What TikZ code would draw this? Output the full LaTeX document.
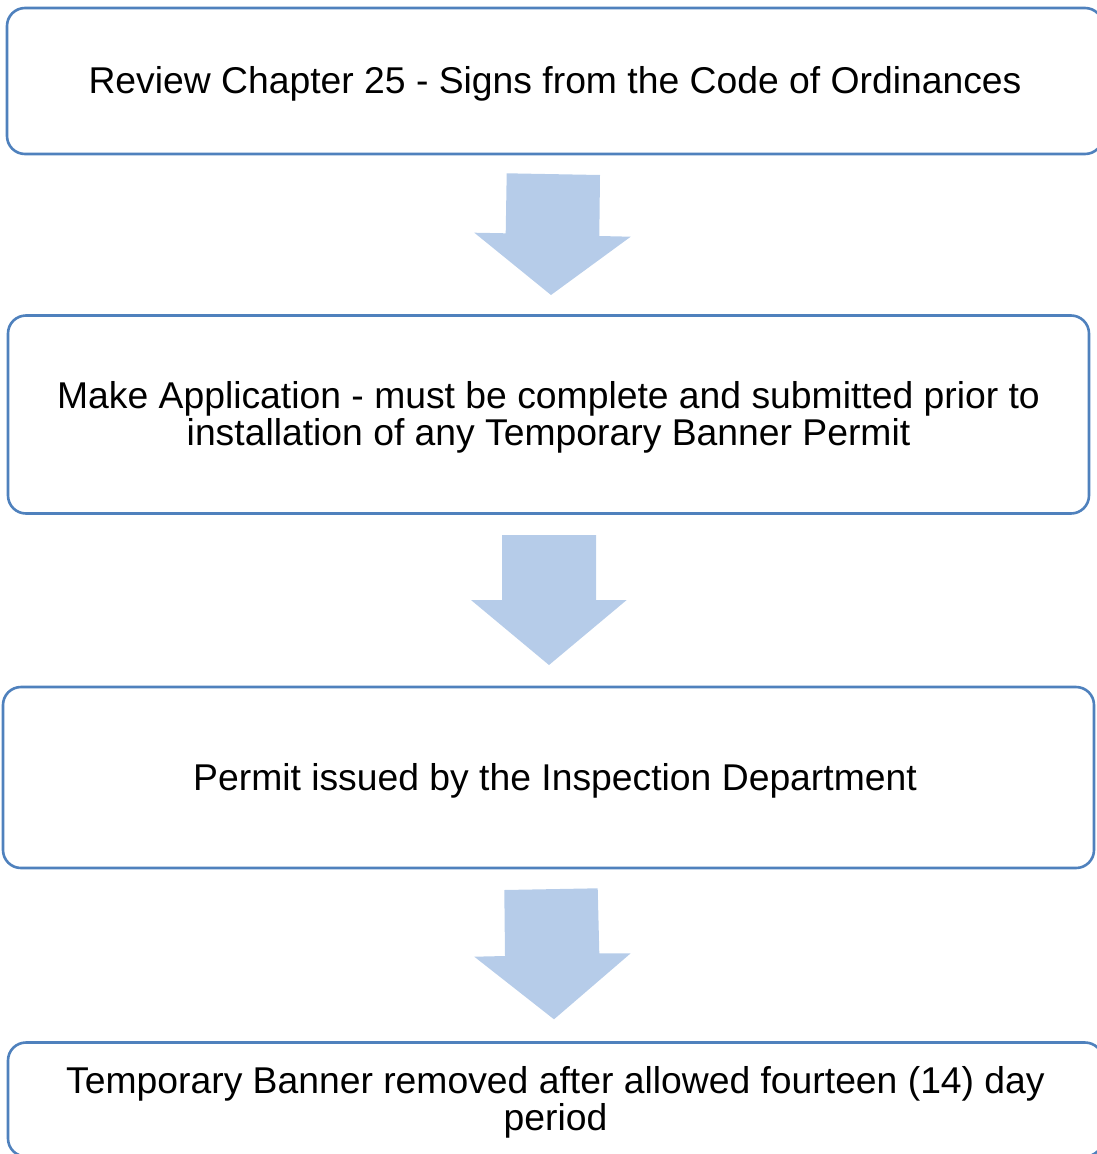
\documentclass[tikz,border=0pt]{standalone}
\usepackage{fontspec}
\setmainfont{Liberation Sans}
\definecolor{boxline}{RGB}{79,129,189}
\definecolor{arrowfill}{RGB}{182,204,233}
\tikzset{
  stepbox/.style={draw=boxline, line width=2.6pt, rounded corners=18pt, fill=white, inner sep=0pt},
  steptext/.style={align=center, inner sep=0pt, font=\fontsize{37.3}{37.5}\selectfont, text=black},
  blockarrow/.style={fill=arrowfill, draw=none}
}
\begin{document}
\begin{tikzpicture}[x=1pt,y=-1pt]
\useasboundingbox (0,0) rectangle (1097,1154);
\clip (0,0) rectangle (1097,1154);
\node[stepbox, minimum width=1096pt, minimum height=146pt] (b1) at (555,81) {};
\node[steptext] (t1) at ([yshift=-2.5pt]b1.center)
  {Review Chapter 25 - Signs from the Code of Ordinances};
\node[stepbox, minimum width=1081pt, minimum height=198pt] (b2) at (548.5,414.5) {};
\node[steptext] (t2) at ([yshift=-3pt]b2.center)
  {Make Application - must be complete and submitted prior to\\installation of any Temporary Banner Permit};
\node[stepbox, minimum width=1091pt, minimum height=181pt] (b3) at (548.5,777.5) {};
\node[steptext] (t3) at ([xshift=6.5pt,yshift=-3pt]b3.center)
  {Permit issued by the Inspection Department};
\node[stepbox, minimum width=1095pt, minimum height=114pt] (b4) at (555.5,1099.5) {};
\node[steptext] (t4) at ([yshift=-3pt]b4.center)
  {Temporary Banner removed after allowed fourteen (14) day\\period};
% block arrows between the boxes
\fill[blockarrow] (506.7,173.3) -- (600,175) -- (599.3,236) -- (630.7,236.7) -- (551,295)
  -- (474.3,232.7) -- (505.7,233.3) -- cycle;
\fill[blockarrow] (502,535) -- (596,535) -- (596,600) -- (626.7,600) -- (549,665)
  -- (471,600) -- (502,600) -- cycle;
\fill[blockarrow] (504.3,890) -- (597.7,888.3) -- (599.3,953.3) -- (630.7,953.3) -- (554,1019.3)
  -- (474.3,956.7) -- (505,956) -- cycle;
\end{tikzpicture}
\end{document}
